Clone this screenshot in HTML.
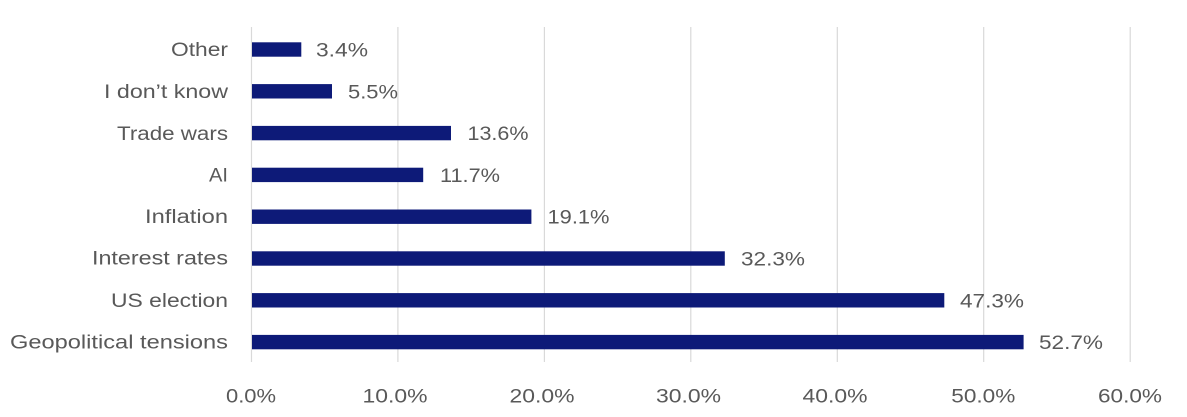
<!DOCTYPE html>
<html>
<head>
<meta charset="utf-8">
<style>
  html,body{margin:0;padding:0;background:#ffffff;}
  svg{display:block;}
  text{font-family:"Liberation Sans",sans-serif;fill:#595959;font-size:19px;}
</style>
</head>
<body>
<svg width="1187" height="417" viewBox="0 0 1187 417" xmlns="http://www.w3.org/2000/svg">
  <rect x="0" y="0" width="1187" height="417" fill="#ffffff"/>
  <!-- gridlines -->
  <g stroke="#d9d9d9" stroke-width="1.2">
    <line x1="251.5" y1="27" x2="251.5" y2="362"/>
    <line x1="397.9" y1="27" x2="397.9" y2="362"/>
    <line x1="544.4" y1="27" x2="544.4" y2="362"/>
    <line x1="690.8" y1="27" x2="690.8" y2="362"/>
    <line x1="837.3" y1="27" x2="837.3" y2="362"/>
    <line x1="983.7" y1="27" x2="983.7" y2="362"/>
    <line x1="1130.2" y1="27" x2="1130.2" y2="362"/>
  </g>
  <!-- bars: x0=252, 14.645 px per % -->
  <g fill="#0d1a78">
    <rect x="252" y="42.3" width="49.3" height="14.4"/>
    <rect x="252" y="84.1" width="80.0" height="14.4"/>
    <rect x="252" y="125.9" width="199.0" height="14.4"/>
    <rect x="252" y="167.7" width="171.2" height="14.4"/>
    <rect x="252" y="209.5" width="279.4" height="14.4"/>
    <rect x="252" y="251.3" width="472.8" height="14.4"/>
    <rect x="252" y="293.1" width="692.3" height="14.4"/>
    <rect x="252" y="334.9" width="771.6" height="14.4"/>
  </g>
  <!-- category labels -->
  <g text-anchor="end">
    <text x="228" y="56.2" textLength="57" lengthAdjust="spacingAndGlyphs">Other</text>
    <text x="228" y="98.0" textLength="124" lengthAdjust="spacingAndGlyphs">I don’t know</text>
    <text x="228" y="139.8" textLength="111" lengthAdjust="spacingAndGlyphs">Trade wars</text>
    <text x="228" y="181.6" textLength="19" lengthAdjust="spacingAndGlyphs">AI</text>
    <text x="228" y="223.0" textLength="83" lengthAdjust="spacingAndGlyphs">Inflation</text>
    <text x="228" y="264.5" textLength="136" lengthAdjust="spacingAndGlyphs">Interest rates</text>
    <text x="228" y="306.8" textLength="117" lengthAdjust="spacingAndGlyphs">US election</text>
    <text x="228" y="348.6" textLength="218" lengthAdjust="spacingAndGlyphs">Geopolitical tensions</text>
  </g>
  <!-- data labels -->
  <g>
    <text x="316" y="56.5" textLength="52" lengthAdjust="spacingAndGlyphs">3.4%</text>
    <text x="348" y="98.3" textLength="50" lengthAdjust="spacingAndGlyphs">5.5%</text>
    <text x="467.5" y="140.1" textLength="61" lengthAdjust="spacingAndGlyphs">13.6%</text>
    <text x="440" y="181.9" textLength="60" lengthAdjust="spacingAndGlyphs">11.7%</text>
    <text x="547.5" y="223.7" textLength="62" lengthAdjust="spacingAndGlyphs">19.1%</text>
    <text x="741" y="265.5" textLength="64" lengthAdjust="spacingAndGlyphs">32.3%</text>
    <text x="960" y="307.3" textLength="64" lengthAdjust="spacingAndGlyphs">47.3%</text>
    <text x="1039" y="349.1" textLength="64" lengthAdjust="spacingAndGlyphs">52.7%</text>
  </g>
  <!-- tick labels -->
  <g text-anchor="middle">
    <text x="251" y="402.7" textLength="50" lengthAdjust="spacingAndGlyphs">0.0%</text>
    <text x="395" y="402.7" textLength="65" lengthAdjust="spacingAndGlyphs">10.0%</text>
    <text x="542" y="402.7" textLength="65" lengthAdjust="spacingAndGlyphs">20.0%</text>
    <text x="688.5" y="402.7" textLength="65" lengthAdjust="spacingAndGlyphs">30.0%</text>
    <text x="835" y="402.7" textLength="65" lengthAdjust="spacingAndGlyphs">40.0%</text>
    <text x="983.3" y="402.7" textLength="64" lengthAdjust="spacingAndGlyphs">50.0%</text>
    <text x="1130" y="402.7" textLength="64" lengthAdjust="spacingAndGlyphs">60.0%</text>
  </g>
</svg>
</body>
</html>
